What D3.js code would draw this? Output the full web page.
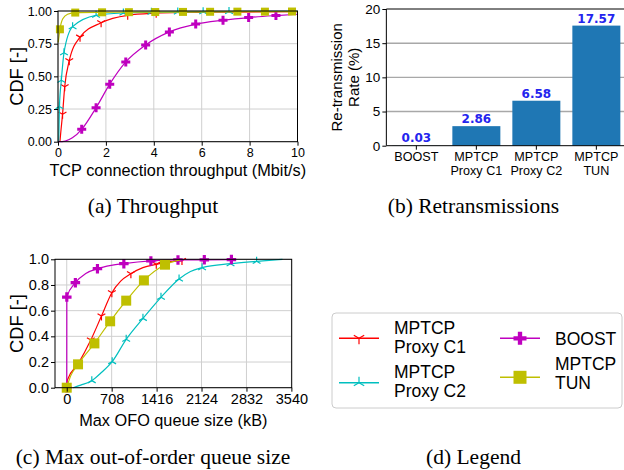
<!DOCTYPE html>
<html><head><meta charset="utf-8">
<script src="https://cdn.jsdelivr.net/npm/d3@7"></script>
<style>html,body{margin:0;padding:0;background:#fff;}svg{display:block;}</style>
</head><body>
<script>
// ---------- DATA ----------
const seriesNames = ["MPTCP Proxy C1", "MPTCP Proxy C2", "BOOST", "MPTCP TUN"];
// (a) throughput CDF (Mbit/s, CDF)
const tputC1Line = [[0.08,0],[0.12,0.08],[0.19,0.21],[0.28,0.42],[0.47,0.62],[0.92,0.80],[1.80,0.91],[2.91,0.967],[4.1,0.983],[5.3,0.989],[7,0.992],[10,0.995]];
const tputC1Marks = [[0.19,0.21],[0.28,0.42],[0.47,0.62],[0.92,0.80],[1.80,0.91],[2.91,0.967],[4.1,0.983]];
const tputC2Line = [[0.03,0],[0.06,0.27],[0.14,0.47],[0.25,0.68],[0.61,0.88],[1.59,0.967],[2.73,0.985],[3.9,0.99],[5.0,0.993],[6.06,0.995],[7.14,0.996],[10,0.998]];
const tputC2Marks = [[0.06,0.27],[0.14,0.47],[0.25,0.68],[0.61,0.88],[1.59,0.967],[2.73,0.985],[3.9,0.99],[5.0,0.993],[6.06,0.995],[7.14,0.996]];
const tputBoostLine = [[0,0],[0.3,0.005],[0.6,0.03],[0.99,0.095],[1.59,0.26],[2.16,0.44],[2.83,0.61],[3.66,0.74],[4.65,0.84],[5.75,0.90],[6.89,0.93],[7.96,0.95],[9.1,0.965],[10,0.975]];
const tputBoostMarks = [[0.99,0.095],[1.59,0.26],[2.16,0.44],[2.83,0.61],[3.66,0.74],[4.65,0.84],[5.75,0.90],[6.89,0.93],[7.96,0.95],[9.1,0.965]];
const tputTunLine = [[0.01,0.76],[0.08,0.86],[0.2,0.94],[0.4,0.975],[0.72,0.988],[1.84,0.99],[2.96,0.991],[4.06,0.992],[6.35,0.994],[10,0.996]];
const tputTunMarks = [[0.08,0.86],[0.72,0.988],[1.84,0.99],[2.96,0.991],[4.06,0.992],[5.22,0.993],[6.35,0.994],[7.49,0.995],[8.64,0.995],[9.77,0.996]];
const tputXTicks = [0, 2, 4, 6, 8, 10];
const tputYTicks = [0, 0.25, 0.5, 0.75, 1.0];

// (b) retransmissions
const retxCats = [["BOOST"], ["MPTCP", "Proxy C1"], ["MPTCP", "Proxy C2"], ["MPTCP", "TUN"]];
const retxValues = [0.03, 2.86, 6.58, 17.57];
const retxYTicks = [0, 5, 10, 15, 20];

// (c) max OFO queue size CDF (kB, CDF)
const ofoC1Line = [[0,0],[10,0.06],[178,0.185],[379,0.371],[547,0.558],[711,0.74],[850,0.83],[1011,0.888],[1200,0.935],[1411,0.961],[1600,0.98],[1816,0.99],[1840,0.998]];
const ofoC1Marks = [[0,0],[379,0.371],[547,0.558],[711,0.74],[1011,0.888],[1411,0.961],[1816,0.99]];
const ofoC2Line = [[100,0],[220,0.02],[395,0.055],[550,0.12],[716,0.203],[937,0.377],[1201,0.54],[1485,0.704],[1770,0.847],[1950,0.905],[2133,0.935],[2581,0.966],[2992,0.984],[3400,1.0]];
const ofoC2Marks = [[395,0.055],[716,0.203],[937,0.377],[1201,0.54],[1485,0.704],[1770,0.847],[2133,0.935],[2581,0.966],[2992,0.984]];
const ofoBoostLine = [[0,0],[1,0.706],[136,0.818],[300,0.89],[484,0.927],[700,0.952],[900,0.966],[1326,0.987],[1753,0.995],[2168,0.996],[2595,0.998]];
const ofoBoostMarks = [[0,0],[1,0.706],[136,0.818],[484,0.927],[900,0.966],[1326,0.987],[1753,0.995],[2168,0.996],[2595,0.998]];
const ofoTunLine = [[0,0],[60,0.09],[178,0.182],[436,0.345],[684,0.517],[937,0.678],[1216,0.836],[1548,0.958],[1790,0.995]];
const ofoTunMarks = [[0,0],[178,0.182],[436,0.345],[684,0.517],[937,0.678],[1216,0.836],[1548,0.958]];
const ofoXTicks = [0, 708, 1416, 2124, 2832, 3540];
const ofoYTicks = [0, 0.2, 0.4, 0.6, 0.8, 1.0];

// ---------- STYLE ----------
const colors = {c1: "#ff0000", c2: "#00bfbf", boost: "#bf00bf", tun: "#bfbf00"};
const SANS = "'Liberation Sans', Arial, sans-serif";
const SERIF = "'Liberation Serif', 'Times New Roman', serif";

const svg = d3.select("body").append("svg").attr("width", 624).attr("height", 470);

// marker shapes
function triDown(s){return `M0,0L0,${s}M0,0L${-0.866*s},${-0.5*s}M0,0L${0.866*s},${-0.5*s}`;}
function triUp(s){return `M0,0L0,${-s}M0,0L${-0.866*s},${0.5*s}M0,0L${0.866*s},${0.5*s}`;}
function plusP(s){const a=s/6,b=s/2;return `M${-a},${-b}H${a}V${-a}H${b}V${a}H${a}V${b}H${-a}V${a}H${-b}V${-a}H${-a}Z`;}
function square(s){const b=s/2;return `M${-b},${-b}H${b}V${b}H${-b}Z`;}

function drawMarker(g, kind, x, y, size){
  const t = `translate(${x},${y})`;
  if(kind==="c1") g.append("path").attr("d", triDown(size)).attr("transform", t).attr("stroke", colors.c1).attr("stroke-width", 1.2).attr("fill","none");
  else if(kind==="c2") g.append("path").attr("d", triUp(size)).attr("transform", t).attr("stroke", colors.c2).attr("stroke-width", 1.2).attr("fill","none");
  else if(kind==="boost") g.append("path").attr("d", plusP(size)).attr("transform", t).attr("fill", colors.boost);
  else g.append("path").attr("d", square(size)).attr("transform", t).attr("fill", colors.tun);
}

function cdfPanel(opt){
  const {x, y, xTicks, yTicks, yFmt, series, tickFont, labelFont, xLabel, xLabelY, yLabelX, sizes} = opt;
  const [x0, x1] = x.range(); const [y0, y1] = y.range();
  const g = svg.append("g");
  // grid
  g.selectAll(null).data(xTicks).enter().append("line")
    .attr("x1", d=>x(d)).attr("x2", d=>x(d)).attr("y1", y0).attr("y2", y1)
    .attr("stroke", "#cfcfcf").attr("stroke-width", 1);
  g.selectAll(null).data(yTicks).enter().append("line")
    .attr("x1", x0).attr("x2", x1).attr("y1", d=>y(d)).attr("y2", d=>y(d))
    .attr("stroke", "#cfcfcf").attr("stroke-width", 1);
  const pg = g.append("g");
  const line = d3.line().x(d=>x(d[0])).y(d=>y(d[1])).curve(d3.curveMonotoneX);
  series.forEach(s=>{
    pg.append("path").attr("d", line(s.line)).attr("fill","none").attr("stroke", colors[s.kind]).attr("stroke-width", 1.2);
    s.marks.forEach(m=>drawMarker(pg, s.kind, x(m[0]), y(m[1]), sizes[s.kind]));
  });
  // axes
  const ax = g.append("g").attr("transform", `translate(0,${y0})`).call(d3.axisBottom(x).tickValues(xTicks).tickSize(4).tickPadding(2).tickFormat(d3.format("d")));
  const ay = g.append("g").attr("transform", `translate(${x0},0)`).call(d3.axisLeft(y).tickValues(yTicks).tickSize(4).tickPadding(2).tickFormat(yFmt));
  [ax, ay].forEach(a=>{a.select(".domain").remove(); a.selectAll("text").attr("font-family", SANS).attr("font-size", tickFont).attr("fill","#000"); a.selectAll("line").attr("stroke","#000");});
  g.append("rect").attr("x", x0).attr("y", y1).attr("width", x1-x0).attr("height", y0-y1).attr("fill","none").attr("stroke","#000").attr("stroke-width",1);
  g.append("text").attr("x", (x0+x1)/2).attr("y", xLabelY).attr("text-anchor","middle").attr("font-family", SANS).attr("font-size", labelFont).text(xLabel);
  g.append("text").attr("transform", `translate(${yLabelX},${(y0+y1)/2}) rotate(-90)`).attr("text-anchor","middle").attr("font-family", SANS).attr("font-size", labelFont+2).text("CDF [-]");
}

// ---------- (a) ----------
cdfPanel({
  x: d3.scaleLinear().domain([0,10]).range([58,297.5]),
  y: d3.scaleLinear().domain([0,1]).range([141.7,11]),
  xTicks: tputXTicks, yTicks: tputYTicks, yFmt: d3.format(".2f"),
  tickFont: 12.5, labelFont: 16.3, xLabel: "TCP connection throughput (Mbit/s)", xLabelY: 176, yLabelX: 22.5,
  sizes: {c1: 4.5, c2: 4.5, boost: 9, tun: 8},
  series: [
    {kind:"c1", line: tputC1Line, marks: tputC1Marks},
    {kind:"c2", line: tputC2Line, marks: tputC2Marks},
    {kind:"boost", line: tputBoostLine, marks: tputBoostMarks},
    {kind:"tun", line: tputTunLine, marks: tputTunMarks}
  ]
});

// ---------- (c) ----------
cdfPanel({
  x: d3.scaleLinear().domain([-185,3545]).range([55,291.7]),
  y: d3.scaleLinear().domain([0,1]).range([387.7,259.3]),
  xTicks: ofoXTicks, yTicks: ofoYTicks, yFmt: d3.format(".1f"),
  tickFont: 14.5, labelFont: 16.3, xLabel: "Max OFO queue size (kB)", xLabelY: 425.5, yLabelX: 22.5,
  sizes: {c1: 4.5, c2: 4.5, boost: 9.5, tun: 10},
  series: [
    {kind:"c1", line: ofoC1Line, marks: ofoC1Marks},
    {kind:"c2", line: ofoC2Line, marks: ofoC2Marks},
    {kind:"boost", line: ofoBoostLine, marks: ofoBoostMarks},
    {kind:"tun", line: ofoTunLine, marks: ofoTunMarks}
  ]
});

// ---------- (b) ----------
(function(){
  const keys = retxCats.map(c=>c.join(" "));
  const x = d3.scaleBand().domain(keys).range([386.35, 626.35]).paddingInner(0.2).paddingOuter(0.1);
  const y = d3.scaleLinear().domain([0,20]).range([145.7, 9]);
  const g = svg.append("g");
  g.selectAll(null).data(retxYTicks.filter(d=>d>0 && d<20)).enter().append("line")
    .attr("x1", 386.35).attr("x2", 626).attr("y1", d=>y(d)).attr("y2", d=>y(d))
    .attr("stroke", "#a8a8a8").attr("stroke-width", 1.4);
  g.selectAll(null).data(retxValues).enter().append("rect")
    .attr("x", (d,i)=>x(keys[i])).attr("width", x.bandwidth())
    .attr("y", d=>y(d)).attr("height", d=>y(0)-y(d)).attr("fill", "#1f77b4");
  g.selectAll(null).data(retxValues).enter().append("text")
    .attr("x", (d,i)=>x(keys[i]) + x.bandwidth()/2).attr("y", d=>y(d)-3)
    .attr("text-anchor","middle").attr("font-family", "'DejaVu Sans', sans-serif").attr("font-weight","bold")
    .attr("font-size", 12).attr("fill", "#2424ee").text(d=>d.toFixed(2));
  const ay = g.append("g").attr("transform", `translate(386.35,0)`).call(d3.axisLeft(y).tickValues(retxYTicks).tickSize(4).tickPadding(2));
  ay.select(".domain").remove();
  ay.selectAll("text").attr("font-family", SANS).attr("font-size", 13.5).attr("fill","#000");
  ay.selectAll("line").attr("stroke","#000");
  // spines
  g.append("line").attr("x1",386.35).attr("x2",386.35).attr("y1",9).attr("y2",145.7).attr("stroke","#000");
  g.append("line").attr("x1",386.35).attr("x2",626).attr("y1",9).attr("y2",9).attr("stroke","#000");
  g.append("line").attr("x1",386.35).attr("x2",626).attr("y1",145.7).attr("y2",145.7).attr("stroke","#000");
  // category labels (one text element per category, wrapped with tspans)
  retxCats.forEach((c,i)=>{
    const cx = x(keys[i]) + x.bandwidth()/2;
    g.append("line").attr("x1",cx).attr("x2",cx).attr("y1",145.7).attr("y2",149.7).attr("stroke","#000");
    const t = g.append("text").attr("x", cx).attr("y", 161).attr("text-anchor","middle")
      .attr("font-family", SANS).attr("font-size", 12.6);
    c.forEach((s,j)=>t.append("tspan").attr("x", cx).attr("dy", j===0 ? 0 : 14.4).text(s));
  });
  const yl = g.append("text").attr("transform", `translate(342,${(9+145.7)/2}) rotate(-90)`).attr("text-anchor","middle").attr("font-family", SANS).attr("font-size", 15);
  yl.append("tspan").attr("x",0).attr("dy",0).text("Re-transmission");
  yl.append("tspan").attr("x",0).attr("dy",16.5).text("Rate (%)");
})();

// ---------- (d) legend ----------
(function(){
  const g = svg.append("g");
  g.append("rect").attr("x",332).attr("y",313).attr("width",290).attr("height",95).attr("rx",4)
    .attr("fill","#fff").attr("stroke","#cccccc").attr("stroke-width",1);
  const entries = [
    {kind:"c1", lines:["MPTCP","Proxy C1"], lx:339, ly:338.3, tx:394, ty:334.3},
    {kind:"c2", lines:["MPTCP","Proxy C2"], lx:339, ly:382.7, tx:394, ty:378.3},
    {kind:"boost", lines:["BOOST"], lx:500, ly:338.3, tx:555, ty:345},
    {kind:"tun", lines:["MPTCP","TUN"], lx:500, ly:377.3, tx:555, ty:370}
  ];
  const msize = {c1: 6, c2: 6, boost: 13, tun: 13};
  entries.forEach(e=>{
    g.append("line").attr("x1", e.lx).attr("x2", e.lx+40).attr("y1", e.ly).attr("y2", e.ly).attr("stroke", colors[e.kind]).attr("stroke-width", 1.5);
    drawMarker(g, e.kind, e.lx+20, e.ly, msize[e.kind]);
    const t = g.append("text").attr("x", e.tx).attr("y", e.ty).attr("font-family", SANS).attr("font-size", 17.5);
    e.lines.forEach((s,j)=>t.append("tspan").attr("x", e.tx).attr("dy", j===0 ? 0 : 18.7).text(s));
  });
})();

// ---------- captions ----------
[["(a) Throughput",153,213],["(b) Retransmissions",473.5,213],["(c) Max out-of-order queue size",153,464],["(d) Legend",473.5,464]]
  .forEach(c=>svg.append("text").attr("x",c[1]).attr("y",c[2]).attr("text-anchor","middle").attr("font-family",SERIF).attr("font-size",21.5).text(c[0]));
</script>
</body></html>
